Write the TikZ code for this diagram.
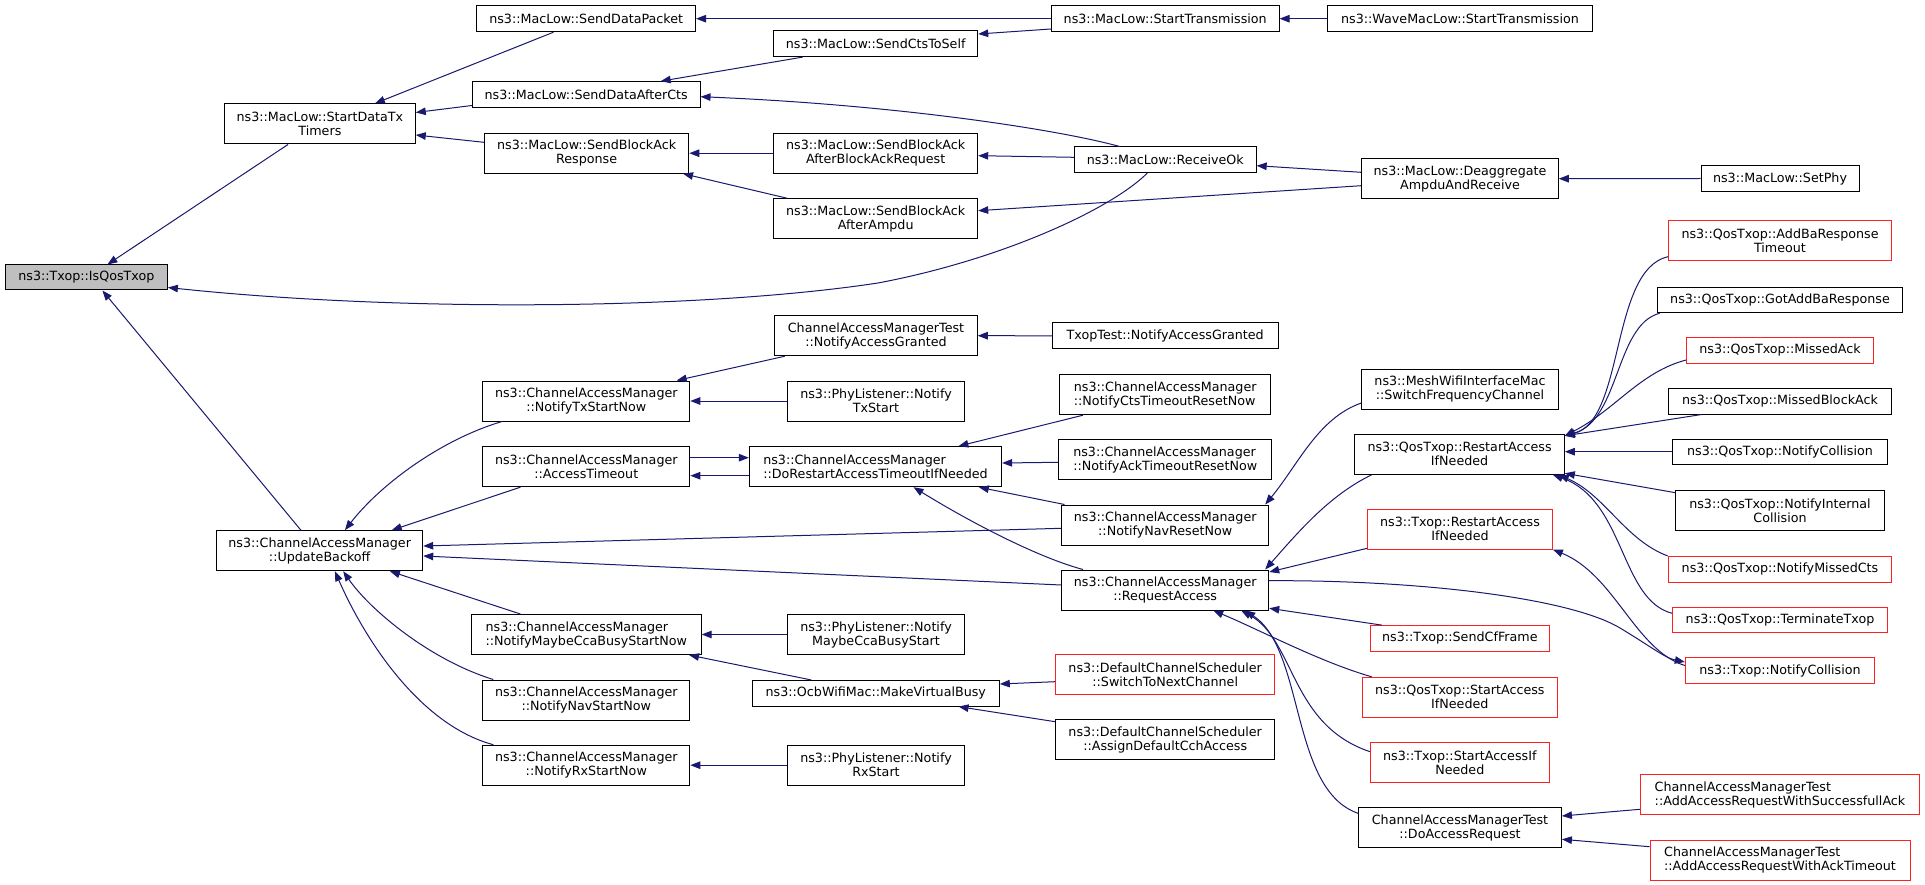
\documentclass[tikz,border=0pt]{standalone}
\usepackage{fontspec}
\setmainfont{DejaVu Sans}
\usetikzlibrary{arrows.meta}
\definecolor{edgec}{HTML}{191970}
\definecolor{nodegray}{HTML}{BFBFBF}
\definecolor{boxred}{HTML}{FF2020}
\begin{document}
\begin{tikzpicture}[x=1pt,y=-1pt,
  box/.style={draw=black, fill=white, line width=1pt, inner sep=0pt, align=center,
    font=\fontsize{12.7}{14}\selectfont},
  redbox/.style={box, draw=boxred},
  sz/.style 2 args={minimum width=#1pt, minimum height=#2pt},
  edge/.style={draw=edgec, line width=1pt, -{Triangle[length=10pt,width=7.5pt]}}]
\fill[white] (0,0) rectangle (1925,885);
\useasboundingbox (0,0) rectangle (1925,885);

% column 0
\node[box, fill=nodegray, sz={162}{25}] (isqos) at (86.4,277.5) {ns3::Txop::IsQosTxop};
% column 1
\node[box, sz={190.7}{40}] (sdtt) at (319.9,124) {ns3::MacLow::StartDataTx\\Timers};
\node[box, sz={206}{40}] (ub) at (319.7,550.7) {ns3::ChannelAccessManager\\::UpdateBackoff};
% column 2
\node[box, sz={218.7}{26}] (sdp) at (586.2,18.7) {ns3::MacLow::SendDataPacket};
\node[box, sz={227.7}{25.6}] (sdac) at (586.2,94.5) {ns3::MacLow::SendDataAfterCts};
\node[box, sz={204.4}{40}] (sbar) at (586.6,153.2) {ns3::MacLow::SendBlockAck\\Response};
\node[box, sz={207}{40}] (ntx) at (586.3,401) {ns3::ChannelAccessManager\\::NotifyTxStartNow};
\node[box, sz={207}{40}] (at) at (586.3,466.7) {ns3::ChannelAccessManager\\::AccessTimeout};
\node[box, align=left, sz={229.7}{40}] (nmcb) at (586.3,634.5) {ns3::ChannelAccessManager\\::NotifyMaybeCcaBusyStartNow};
\node[box, sz={207}{40}] (nns) at (586.3,700) {ns3::ChannelAccessManager\\::NotifyNavStartNow};
\node[box, sz={207}{40}] (nrs) at (586.3,765.2) {ns3::ChannelAccessManager\\::NotifyRxStartNow};
% column 3
\node[box, sz={204}{25.6}] (scts) at (875.7,43.8) {ns3::MacLow::SendCtsToSelf};
\node[box, sz={204}{40}] (sbaabar) at (875.7,153.2) {ns3::MacLow::SendBlockAck\\AfterBlockAckRequest};
\node[box, sz={204}{40}] (sbaaa) at (875.7,218.7) {ns3::MacLow::SendBlockAck\\AfterAmpdu};
\node[box, sz={202.5}{40}] (camtnag) at (876,335.7) {ChannelAccessManagerTest\\::NotifyAccessGranted};
\node[box, sz={177}{40}] (plts) at (876,401) {ns3::PhyListener::Notify\\TxStart};
\node[box, align=left, sz={252.3}{40}] (dor) at (875.5,466.7) {ns3::ChannelAccessManager\\::DoRestartAccessTimeoutIfNeeded};
\node[box, sz={177}{40}] (plmcb) at (876,634.5) {ns3::PhyListener::Notify\\MaybeCcaBusyStart};
\node[box, sz={247}{25.6}] (mvb) at (875.8,693.3) {ns3::OcbWifiMac::MakeVirtualBusy};
\node[box, sz={177}{40}] (plrs) at (876,765.2) {ns3::PhyListener::Notify\\RxStart};
% column 4
\node[box, sz={227.7}{26}] (st) at (1165.2,18.7) {ns3::MacLow::StartTransmission};
\node[box, sz={181.7}{25.6}] (rok) at (1165.3,159.8) {ns3::MacLow::ReceiveOk};
\node[box, sz={225.7}{25.6}] (ttnag) at (1165.2,335.8) {TxopTest::NotifyAccessGranted};
\node[box, align=left, sz={211}{40}] (nctr) at (1165.2,394.7) {ns3::ChannelAccessManager\\::NotifyCtsTimeoutResetNow};
\node[box, align=left, sz={213.5}{40}] (natr) at (1165.2,459.8) {ns3::ChannelAccessManager\\::NotifyAckTimeoutResetNow};
\node[box, sz={207}{40}] (nnr) at (1165.2,525) {ns3::ChannelAccessManager\\::NotifyNavResetNow};
\node[box, sz={207}{40}] (ra) at (1165.2,590) {ns3::ChannelAccessManager\\::RequestAccess};
\node[redbox, sz={219.2}{40}] (sw) at (1165.2,674.7) {ns3::DefaultChannelScheduler\\::SwitchToNextChannel};
\node[box, sz={219.2}{40}] (adc) at (1165.2,739.7) {ns3::DefaultChannelScheduler\\::AssignDefaultCchAccess};
% column 5
\node[box, sz={264.3}{26}] (wml) at (1460,18.7) {ns3::WaveMacLow::StartTransmission};
\node[box, sz={196.5}{40}] (dar) at (1460,178.7) {ns3::MacLow::Deaggregate\\AmpduAndReceive};
\node[box, sz={196.2}{40}] (mesh) at (1460,389) {ns3::MeshWifiInterfaceMac\\::SwitchFrequencyChannel};
\node[box, sz={209.4}{40}] (qra) at (1459.6,454.3) {ns3::QosTxop::RestartAccess\\IfNeeded};
\node[redbox, sz={184.7}{40}] (tra) at (1460,529) {ns3::Txop::RestartAccess\\IfNeeded};
\node[redbox, sz={178.5}{25.4}] (scf) at (1459.8,638.3) {ns3::Txop::SendCfFrame};
\node[redbox, sz={195}{40}] (qsa) at (1459.8,697.3) {ns3::QosTxop::StartAccess\\IfNeeded};
\node[redbox, sz={178.5}{40}] (tsa) at (1459.8,762.7) {ns3::Txop::StartAccessIf\\Needed};
\node[box, sz={202.8}{40.3}] (dar2) at (1460,827.8) {ChannelAccessManagerTest\\::DoAccessRequest};
% column 6
\node[box, sz={158}{25.6}] (setphy) at (1780,178.5) {ns3::MacLow::SetPhy};
\node[redbox, sz={223.2}{40}] (abrt) at (1780,241) {ns3::QosTxop::AddBaResponse\\Timeout};
\node[box, sz={245.6}{25.4}] (gabr) at (1780,300) {ns3::QosTxop::GotAddBaResponse};
\node[redbox, sz={186.7}{25.4}] (mack) at (1780,350.3) {ns3::QosTxop::MissedAck};
\node[box, sz={223}{25.4}] (mback) at (1780,401.3) {ns3::QosTxop::MissedBlockAck};
\node[box, sz={214.7}{25.4}] (qnc) at (1780,451.7) {ns3::QosTxop::NotifyCollision};
\node[box, sz={208.2}{40}] (nic) at (1780,510.7) {ns3::QosTxop::NotifyInternal\\Collision};
\node[redbox, sz={223.7}{25.6}] (nmc) at (1780,569.2) {ns3::QosTxop::NotifyMissedCts};
\node[redbox, sz={214.7}{25.4}] (tt) at (1780,620) {ns3::QosTxop::TerminateTxop};
\node[redbox, sz={189.3}{25.6}] (tnc) at (1780,670.5) {ns3::Txop::NotifyCollision};
\node[redbox, align=left, sz={279.3}{40}] (aaws) at (1780,794.7) {ChannelAccessManagerTest\\::AddAccessRequestWithSuccessfullAck};
\node[redbox, align=left, sz={260}{40}] (aawt) at (1780,860) {ChannelAccessManagerTest\\::AddAccessRequestWithAckTimeout};

% edges (arrow at callee)
\draw[edge] ([xshift=-31.9pt]sdtt.south) -- ([xshift=21pt]isqos.north);
\draw[edge] ([xshift=-18pt]rok.south) .. controls (1110,210) and (1000,260) .. (878,283) .. controls (700,310) and (400,312) .. ([yshift=-10pt]isqos.east);
\draw[edge] ([xshift=-18.8pt]ub.north) -- ([xshift=16pt]isqos.south);
\draw[edge] ([xshift=-32.7pt]sdp.south) -- ([xshift=55pt]sdtt.north);
\draw[edge] ([yshift=-11pt]sdac.west) -- ([yshift=11.5pt]sdtt.east);
\draw[edge] ([yshift=10.9pt]sbar.west) -- ([yshift=-11pt]sdtt.east);
\draw[edge] (st.west) -- (sdp.east);
\draw[edge] ([xshift=-73pt]scts.south) -- ([xshift=74.5pt]sdac.north);
\draw[edge] ([xshift=-45.7pt]rok.north) .. controls (1060,130) and (900,105) .. ([yshift=-2.2pt]sdac.east);
\draw[edge] ([yshift=-10.3pt]st.west) -- ([yshift=9.8pt]scts.east);
\draw[edge] (wml.west) -- (st.east);
\draw[edge] (sbaabar.west) -- (sbar.east);
\draw[edge] ([xshift=-88.7pt]sbaaa.north) -- ([xshift=96.4pt]sbar.south);
\draw[edge] ([yshift=2.5pt]rok.west) -- ([yshift=-2.5pt]sbaabar.east);
\draw[edge] ([yshift=-7pt]dar.west) -- ([yshift=8pt]sbaaa.east);
\draw[edge] ([yshift=6.4pt]dar.west) -- ([yshift=-5.9pt]rok.east);
\draw[edge] (setphy.west) -- (dar.east);
\draw[edge] ([xshift=-84.3pt]ntx.south) .. controls (440,440) and (380,485) .. ([xshift=25.2pt]ub.north);
\draw[edge] ([xshift=-65.9pt]at.south) -- ([xshift=72pt]ub.north);
\draw[edge] ([yshift=-3.3pt]nnr.west) -- ([yshift=4.7pt]ub.east);
\draw[edge] ([yshift=5pt]ra.west) -- ([yshift=-5.3pt]ub.east);
\draw[edge] ([xshift=-65.9pt]nmcb.north) -- ([xshift=70.2pt]ub.south);
\draw[edge] ([xshift=-93pt]nns.north) .. controls (430,660) and (370,610) .. ([xshift=23.5pt]ub.south);
\draw[edge] ([xshift=-93pt]nrs.north) .. controls (420,725) and (365,640) .. ([xshift=15.2pt]ub.south);
\draw[edge] ([xshift=-91.1pt]camtnag.south) -- ([xshift=90.4pt]ntx.north);
\draw[edge] (plts.west) -- (ntx.east);
\draw[edge] (ttnag.west) -- (camtnag.east);
\draw[edge] ([yshift=9pt]at.east) -- ([yshift=9pt]dor.west);
\draw[edge] ([yshift=-9pt]dor.west) -- ([yshift=-9pt]at.east);
\draw[edge] ([xshift=-82.2pt]nctr.south) -- ([xshift=82.9pt]dor.north);
\draw[edge] ([yshift=-2.5pt]natr.west) -- ([yshift=3.7pt]dor.east);
\draw[edge] ([xshift=-100.7pt]nnr.north) -- ([xshift=103.3pt]dor.south);
\draw[edge] ([xshift=-82.2pt]ra.north) .. controls (1040,558) and (975,525) .. ([xshift=38pt]dor.south);
\draw[edge] ([yshift=-14pt]mesh.west) .. controls (1318,418) and (1298,465) .. ([xshift=-4pt]nnr.north east);
\draw[edge] (plmcb.west) -- (nmcb.east);
\draw[edge] ([xshift=-64.4pt]mvb.north) -- ([xshift=102.7pt]nmcb.south);
\draw[edge] ([yshift=-7pt]sw.west) -- ([yshift=9.3pt]mvb.east);
\draw[edge] ([yshift=18pt]adc.west) -- ([xshift=82.7pt]mvb.south);
\draw[edge] (plrs.west) -- (nrs.east);
\draw[edge] ([xshift=-87.9pt]qra.south) .. controls (1330,495) and (1300,530) .. ([xshift=-4pt]ra.north east);
\draw[edge] ([yshift=-19.3pt]tra.west) -- ([yshift=18pt]ra.east);
\draw[edge] ([xshift=-78.1pt]scf.north) -- ([yshift=-18.3pt]ra.east);
\draw[edge] ([xshift=-88.1pt]qsa.north) .. controls (1320,662) and (1260,630) .. ([xshift=48pt]ra.south);
\draw[edge] ([yshift=11pt]tsa.west) .. controls (1290,725) and (1295,640) .. ([xshift=76pt]ra.south);
\draw[edge] ([yshift=14.5pt]dar2.west) .. controls (1290,790) and (1305,650) .. ([xshift=80pt]ra.south);
\draw[edge] ([yshift=9.3pt]ra.east) .. controls (1420,580) and (1570,598) .. (1620,628) .. controls (1650,646) and (1665,658) .. ([yshift=8.5pt]tnc.west);
\draw[edge] ([yshift=5pt]tnc.west) .. controls (1635,650) and (1615,575) .. (tra.south east);
\draw[edge] ([yshift=-15.7pt]abrt.west) .. controls (1610,270) and (1625,420) .. ([yshift=-2pt]qra.north east);
\draw[edge] ([xshift=3pt]gabr.south west) .. controls (1615,325) and (1620,420) .. ([yshift=-2pt]qra.north east);
\draw[edge] ([yshift=-9.7pt]mack.west) .. controls (1640,372) and (1615,410) .. ([yshift=-2pt]qra.north east);
\draw[edge] ([xshift=-78.3pt]mback.south) -- ([yshift=-2pt]qra.north east);
\draw[edge] (qnc.west) -- (qra.east |- qnc.west);
\draw[edge] ([yshift=18pt]nic.west) -- ([yshift=-19pt]qra.east);
\draw[edge] (nmc.north west) .. controls (1625,540) and (1605,495) .. ([xshift=-6pt]qra.south east);
\draw[edge] ([yshift=6.7pt]tt.west) .. controls (1620,600) and (1625,500) .. ([xshift=-12pt]qra.south east);
\draw[edge] ([yshift=-14.6pt]aaws.west) -- ([yshift=11.8pt]dar2.east);
\draw[edge] ([yshift=13.3pt]aawt.west) -- ([yshift=-11.5pt]dar2.east);
\end{tikzpicture}
\end{document}
